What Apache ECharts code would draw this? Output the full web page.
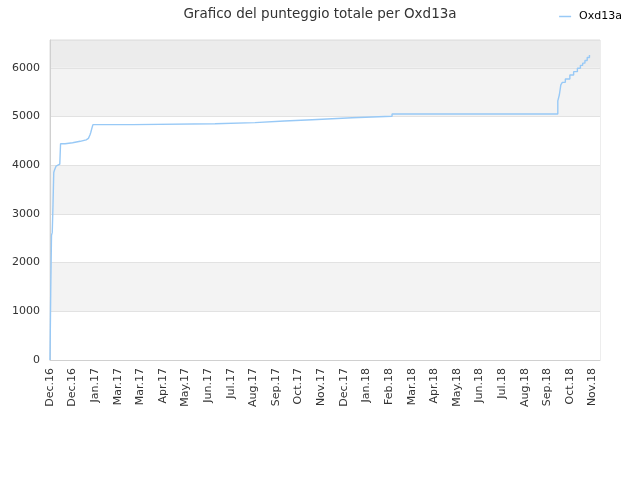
<!DOCTYPE html>
<html>
<head>
<meta charset="utf-8">
<script src="https://cdn.jsdelivr.net/npm/echarts@6/dist/echarts.min.js"></script>
<style>
    html, body { margin: 0; padding: 0; background: #fff; }
    #chart { width: 640px; height: 480px; }
</style>
</head>
<body>
<div id="chart"></div>
<script>
// dati (punti in cui cambia il punteggio)
const dates = [
    '2016-12-01', '2016-12-02', '2016-12-03', '2016-12-04', '2016-12-05', '2016-12-06',
    '2016-12-07', '2016-12-09', '2016-12-11', '2016-12-14', '2016-12-15', '2016-12-21',
    '2016-12-31', '2017-01-10', '2017-01-18', '2017-01-21', '2017-01-23', '2017-01-24',
    '2017-01-26', '2017-01-27', '2017-03-21', '2017-07-08', '2017-08-30', '2017-10-08',
    '2017-11-14', '2018-01-06', '2018-02-28', '2018-10-06', '2018-10-08', '2018-10-10',
    '2018-10-12', '2018-10-16', '2018-10-22', '2018-10-27', '2018-11-01', '2018-11-05',
    '2018-11-08', '2018-11-11', '2018-11-14', '2018-11-17'
];
const scores = [
    0, 1470, 2560, 2620, 3200, 3850,
    3900, 3980, 4020, 4040, 4440, 4460,
    4490, 4520, 4550, 4585, 4620, 4665,
    4780, 4832, 4852, 4873, 4908, 4934,
    4975, 5004, 5051, 5320, 5440, 5650,
    5700, 5770, 5850, 5920, 5990, 6050,
    6095, 6150, 6210, 6263
];
const xTickLabels = [
    'Dec.16', 'Dec.16', 'Jan.17', 'Mar.17', 'Mar.17', 'Apr.17', 'May.17', 'Jun.17',
    'Jul.17', 'Aug.17', 'Sep.17', 'Oct.17', 'Nov.17', 'Dec.17', 'Jan.18', 'Feb.18',
    'Mar.18', 'Apr.18', 'May.18', 'Jun.18', 'Jul.18', 'Aug.18', 'Sep.18', 'Oct.18', 'Nov.18'
];
const seriesName = 'Oxd13a';

const START = Date.parse('2016-12-01');

function dayIndex(d) {
    return Math.round((Date.parse(d) - START) / 864e5);
}

const points = dates.map((d, i) => [dayIndex(d), scores[i]]);

const option = {
    animation: false,
    textStyle: { fontFamily: 'DejaVu Sans' },
    title: {
        text: 'Grafico del punteggio totale per ' + seriesName,
        left: 'center',
        top: 2,
        textStyle: { fontSize: 13.5, fontWeight: 'normal', color: '#333', fontFamily: 'DejaVu Sans' }
    },
    legend: {
        data: [seriesName],
        right: 13,
        top: 6,
        icon: 'rect',
        itemWidth: 12,
        itemHeight: 1.5,
        textStyle: { fontSize: 11, color: '#000', fontFamily: 'DejaVu Sans', padding: [0, 0, 0, 3] }
    },
    grid: {
        left: 50,
        right: 40,
        top: 40,
        bottom: 120,
        show: true,
        borderColor: '#dcdcdc',
        borderWidth: 1
    },
    xAxis: {
        type: 'value',
        min: 0,
        max: 730,
        interval: 30,
        axisLine: { show: true, lineStyle: { color: '#d0d0d0' } },
        axisTick: { show: false },
        splitLine: { show: false },
        axisLabel: {
            rotate: 90,
            margin: 8,
            fontSize: 11,
            color: '#333',
            showMaxLabel: false,
            formatter: v => xTickLabels[v / 30] || ''
        }
    },
    yAxis: {
        type: 'value',
        min: 0,
        max: 6570,
        interval: 1000,
        axisLine: { show: true, lineStyle: { color: '#d0d0d0' } },
        axisTick: { show: false },
        splitLine: { show: true, lineStyle: { color: '#e2e2e2' } },
        splitArea: {
            show: true,
            areaStyle: {
                color: ['#ffffff', '#f3f3f3', '#ffffff', '#f3f3f3', '#ffffff', '#f3f3f3', '#ececec']
            }
        },
        axisLabel: {
            margin: 10,
            fontSize: 11,
            color: '#333',
            showMaxLabel: false,
            formatter: v => String(v)
        }
    },
    series: [
        {
            name: seriesName,
            type: 'line',
            step: 'end',
            showSymbol: false,
            data: points,
            color: '#98c9f6',
            lineStyle: { width: 1.4, color: '#98c9f6' }
        }
    ]
};

const myChart = echarts.init(document.querySelector('#chart'));
myChart.setOption(option);
</script>
</body>
</html>
